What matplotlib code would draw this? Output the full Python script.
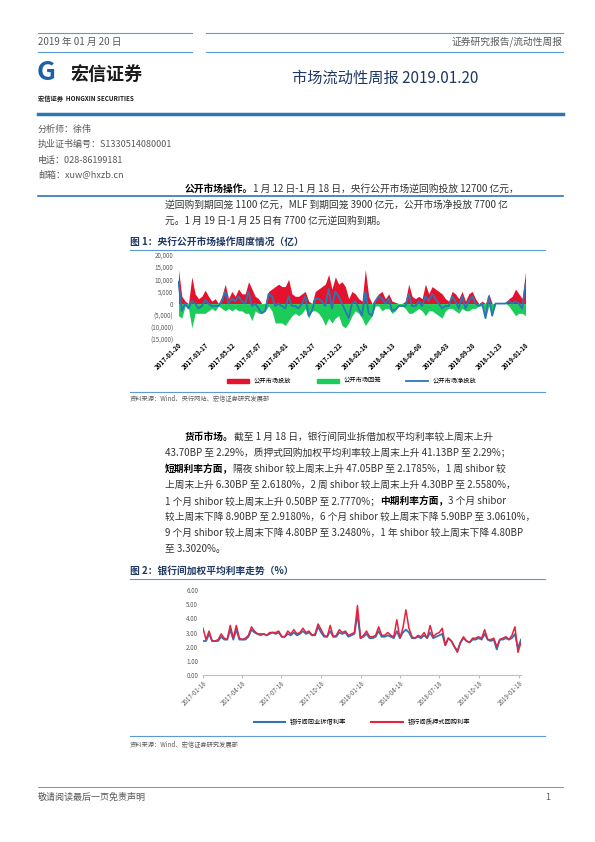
import numpy as np
import pandas as pd
import matplotlib
matplotlib.use("Agg")
from matplotlib import pyplot as plt
from matplotlib.lines import Line2D
from matplotlib.patches import Patch

plt.rcParams['font.family'] = ['Noto Sans CJK SC', 'DejaVu Sans']

# 图1 weekly open market ops (亿), 2017-01-20 .. 2019-01-18
inject = [14, 3, 1, 0, 11, 4, 2, 3, 5.5, 3,
          1, 2, 0, 3, 8, 2, 5, 3, 6, 4,
          4, 9, 6, 3, 2, 0, 0, 5, 6, 7,
          8, 7, 7, 10, 4, 3, 3, 4, 5, 1,
          0, 5, 6, 7, 8, 12, 6, 11, 8, 9,
          7, 2, 5, 4, 2, 1, 14, 3, 0, 2,
          4, 5, 2, 4, 1, 0.5, 0, 0, 1, 8,
          3, 2, 3, 2, 8, 4, 7, 6, 5, 4,
          2, 1, 5, 4, 2, 5, 1, 4, 5, 2,
          0, 1, 0, 4, 0, 0, 0, 0, 0, 2,
          3, 6, 4, 2, 13]
withdraw = [5, 6, 1, 2, 10, 4, 4, 4, 4, 3,
            2, 3, 1, 2, 3, 2, 3, 2, 3, 3,
            4, 4, 7, 3, 4, 4, 3, 1, 3, 8,
            8, 8, 9, 7, 5, 4, 5, 4, 2, 6,
            3, 3, 4, 6, 9, 6, 8, 6, 5, 9,
            10, 8, 5, 3, 4, 6, 9, 7, 5, 1,
            1, 3, 2, 2, 4, 3, 1, 1, 2, 4,
            4, 3, 2, 3, 5, 3, 3, 4, 5, 6,
            3, 2, 2, 3, 4, 2, 3, 3, 2, 2,
            1, 1, 6, 1, 5, 0, 0, 0, 0, 1,
            3, 5, 4, 4, 5]
weeks1 = pd.date_range("2017-01-20", periods=len(inject), freq="7D")

# 图2 rates (%), weekly samples 2017-01-18 .. 2019-01-18
repo = [3.3, 2.5, 3.1, 2.4, 2.4, 2.5, 2.9, 2.6, 2.5, 3.5,
        2.6, 3.5, 2.6, 2.5, 2.6, 2.8, 3.4, 3.1, 2.9, 2.9,
        2.9, 2.8, 3.0, 3.0, 3.0, 3.1, 2.7, 2.7, 3.1, 2.9,
        3.2, 2.9, 3.0, 3.3, 3.0, 3.1, 2.8, 2.9, 3.6, 3.2,
        2.8, 2.7, 3.5, 2.7, 2.8, 3.2, 3.0, 3.1, 2.8, 2.9,
        3.0, 4.9, 2.6, 2.8, 3.1, 2.7, 2.7, 2.8, 3.4, 2.8,
        2.8, 3.0, 2.8, 2.7, 3.9, 2.6, 3.3, 4.6, 3.3, 2.7,
        2.6, 2.8, 2.7, 3.0, 2.6, 3.5, 2.7, 2.9, 3.0, 3.3,
        2.1, 2.6, 2.4, 2.0, 1.6, 2.3, 2.7, 2.4, 2.3, 2.6,
        2.6, 2.7, 2.6, 3.2, 2.5, 2.5, 2.6, 2.0, 2.5, 2.6,
        2.7, 2.5, 2.8, 3.4, 1.6, 2.3]
lend = [2.4, 2.4, 2.9, 2.4, 2.4, 2.4, 2.7, 2.5, 2.5, 3.2,
        2.5, 3.2, 2.5, 2.5, 2.5, 2.7, 3.2, 3.0, 2.9, 2.8,
        2.9, 2.8, 2.9, 3.0, 2.9, 3.0, 2.7, 2.7, 2.9, 2.8,
        3.0, 2.8, 2.9, 3.1, 2.9, 3.0, 2.8, 2.8, 3.4, 3.0,
        2.7, 2.7, 3.1, 2.7, 2.7, 3.0, 2.9, 3.0, 2.7, 2.8,
        2.9, 4.3, 2.6, 2.7, 2.9, 2.6, 2.6, 2.7, 3.1, 2.7,
        2.7, 2.8, 2.7, 2.6, 3.1, 2.6, 3.0, 3.2, 3.0, 2.6,
        2.6, 2.7, 2.6, 2.8, 2.6, 3.0, 2.6, 2.7, 2.8, 2.9,
        2.1, 2.6, 2.4, 2.0, 1.7, 2.3, 2.6, 2.4, 2.3, 2.5,
        2.5, 2.6, 2.5, 2.9, 2.5, 2.4, 2.5, 1.8, 2.5, 2.5,
        2.6, 2.5, 2.6, 2.9, 1.9, 2.5]
days2 = pd.date_range("2017-01-18", periods=len(repo), freq="7D")
tick_dates2 = ["2017-01-18", "2017-04-18", "2017-07-18", "2017-10-18", "2018-01-18",
               "2018-04-18", "2018-07-18", "2018-10-18", "2019-01-18"]

W, H = 595, 842
fig = plt.figure(figsize=(W / 100, H / 100), dpi=100)
rend = fig.canvas.get_renderer()
blue = "#5B9BD5"
navy = "#1F3864"
grey = "#595959"
body_c = "#333333"
FS = 7


def tx(x, y, s, **kw):
    return fig.text(x / W, 1 - y / H, s, va="center", **kw)


def runs(x, y, parts):
    # parts: list of (text, bold)
    for s, b in parts:
        t = tx(x, y, s, fontsize=FS, color="black" if b else body_c,
               fontweight="bold" if b else "normal")
        x += t.get_window_extent(rend).width


def hline(x0, x1, y, color=blue, lw=0.8):
    fig.add_artist(Line2D([x0 / W, x1 / W], [1 - y / H, 1 - y / H], color=color, lw=lw))


# header
hline(38, 192, 33); hline(38, 192, 52)
hline(206, 563, 33); hline(206, 563, 52)
tx(38, 42, "2019 年 01 月 20 日", fontsize=7, color=grey)
tx(562, 42, "证券研究报告/流动性周报", fontsize=7, color=grey, ha="right")
tx(46, 73, "G", fontsize=19, fontweight="bold", color="#1F5FA8", ha="center")
tx(70, 74, "宏信证券", fontsize=13, fontweight="bold", color="#1a1a1a")
tx(38, 98, "宏信证券  HONGXIN SECURITIES", fontsize=4.5, fontweight="bold", color="#1a1a1a")
tx(385, 78, "市场流动性周报 2019.01.20", fontsize=11, color=navy, ha="center")
hline(38, 563, 114, color="#2E75B6", lw=2.5)
for i, s in enumerate(["分析师：徐伟", "执业证书编号：S1330514080001", "电话：028-86199181", "邮箱：xuw@hxzb.cn"]):
    tx(38, 129 + i * 15.5, s, fontsize=6.5, color=grey)
hline(38, 563, 196, color="#2E75B6", lw=1.2)

# body paragraph 1
runs(185, 189, [("公开市场操作。", True),
                ("1 月 12 日-1 月 18 日，央行公开市场逆回购投放 12700 亿元，", False)])
runs(165, 205, [("逆回购到期回笼 1100 亿元，MLF 到期回笼 3900 亿元，公开市场净投放 7700 亿", False)])
runs(165, 221, [("元。1 月 19 日-1 月 25 日有 7700 亿元逆回购到期。", False)])

# figure 1
tx(130, 242, "图 1：央行公开市场操作周度情况（亿）", fontsize=7, color=navy, fontweight="bold")
hline(130, 545, 250)
ax1 = fig.add_axes([178 / W, 1 - 340 / H, 348 / W, 85 / H])
inj = np.array(inject) * 1000
wd = -np.array(withdraw) * 1000
ax1.fill_between(weeks1, 0, inj, color="#E5122D", lw=0)
ax1.fill_between(weeks1, 0, wd, color="#1BCC5A", lw=0)
ax1.plot(weeks1, inj + wd, color="#2E75B6", lw=1.3)
ax1.set_ylim(-15000, 20000)
ax1.set_yticks(range(-15000, 20001, 5000))
ax1.set_yticklabels(["(15,000)", "(10,000)", "(5,000)", "0", "5,000", "10,000", "15,000", "20,000"])
for lab in ax1.get_yticklabels()[:3]:
    lab.set_color("#E5122D")
ax1.set_xlim(weeks1[0] - pd.Timedelta(days=1), weeks1[-1] + pd.Timedelta(days=1))
ax1.set_xticks(weeks1[::8])
ax1.set_xticklabels([d.strftime("%Y-%m-%d") for d in weeks1[::8]], rotation=45, ha="right",
                    fontsize=4.5, fontweight="bold", rotation_mode="anchor")
ax1.tick_params(axis="y", labelsize=4.5, length=0, colors=grey)
ax1.tick_params(axis="x", length=0, pad=1)
for sp in ax1.spines.values():
    sp.set_visible(False)
ax1.legend(handles=[Patch(color="#E5122D", label="公开市场投放"), Patch(color="#1BCC5A", label="公开市场回笼"),
                    Line2D([], [], color="#2E75B6", lw=1.3, label="公开市场净投放")],
           loc="center", bbox_to_anchor=(0.5, -0.48), ncol=3, frameon=False, fontsize=4.5,
           handlelength=3.5, handleheight=0.6, columnspacing=4)
hline(130, 545, 392)
tx(130, 398, "资料来源：Wind、央行网站、宏信证券研究发展部", fontsize=4.5, color=grey)

# body paragraph 2
runs(185, 437, [("货币市场。", True), ("截至 1 月 18 日，银行间同业拆借加权平均利率较上周末上升", False)])
runs(165, 453, [("43.70BP 至 2.29%，质押式回购加权平均利率较上周末上升 41.13BP 至 2.29%；", False)])
runs(165, 469, [("短期利率方面，", True), ("隔夜 shibor 较上周末上升 47.05BP 至 2.1785%，1 周 shibor 较", False)])
runs(165, 485, [("上周末上升 6.30BP 至 2.6180%，2 周 shibor 较上周末上升 4.30BP 至 2.5580%，", False)])
runs(165, 501, [("1 个月 shibor 较上周末上升 0.50BP 至 2.7770%；", False), ("中期利率方面，", True),
                ("3 个月 shibor", False)])
runs(165, 517, [("较上周末下降 8.90BP 至 2.9180%，6 个月 shibor 较上周末下降 5.90BP 至 3.0610%，", False)])
runs(165, 533, [("9 个月 shibor 较上周末下降 4.80BP 至 3.2480%，1 年 shibor 较上周末下降 4.80BP", False)])
runs(165, 549, [("至 3.3020%。", False)])

# figure 2
tx(130, 571, "图 2：银行间加权平均利率走势（%）", fontsize=7, color=navy, fontweight="bold")
hline(130, 545, 579)
ax2 = fig.add_axes([203 / W, 1 - 675 / H, 318 / W, 85 / H])
ax2.plot(days2, lend, color="#2E75B6", lw=1.3)
ax2.plot(days2, repo, color="#E8213F", lw=1.1)
ax2.set_ylim(0, 6)
ax2.set_yticks(np.arange(0, 6.01, 1))
ax2.set_yticklabels([f"{v:.2f}" for v in np.arange(0, 6.01, 1)])
ticks2 = pd.to_datetime(tick_dates2)
ax2.set_xlim(days2[0], days2[-1])
ax2.set_xticks(ticks2)
ax2.set_xticklabels(tick_dates2, rotation=45, ha="right",
                    fontsize=4.5, rotation_mode="anchor", color=grey)
ax2.tick_params(axis="y", labelsize=4.5, length=0, colors=grey)
ax2.tick_params(axis="x", length=2, color="#BFBFBF", pad=1)
for k in ["top", "right", "left"]:
    ax2.spines[k].set_visible(False)
ax2.spines["bottom"].set_color("#BFBFBF")
ax2.legend(handles=[Line2D([], [], color="#2E75B6", lw=1.5, label="银行间同业拆借利率"),
                    Line2D([], [], color="#E8213F", lw=1.5, label="银行间质押式回购利率")],
           loc="center", bbox_to_anchor=(0.5, -0.55), ncol=2, frameon=False, fontsize=4.5,
           handlelength=5, columnspacing=4)
hline(130, 545, 736)
tx(130, 744, "资料来源：Wind、宏信证券研究发展部", fontsize=4.5, color=grey)

# footer
hline(38, 563, 787, color="#7F7F7F", lw=0.6)
tx(38, 797, "敬请阅读最后一页免责声明", fontsize=6.5, color=grey)
tx(545, 797, "1", fontsize=6.5, color=grey)

fig.savefig("out.png", dpi=100, facecolor="white")
